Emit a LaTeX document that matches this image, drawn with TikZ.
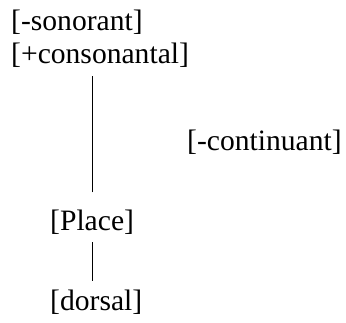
\documentclass[tikz,border=0pt]{standalone}
\usepackage{fontspec}
\setmainfont{Liberation Serif}
\usetikzlibrary{positioning}

\tikzset{feat/.style={anchor=base west, inner sep=0pt, font=\fontsize{29.6}{34}\selectfont}}
\tikzset{assoc/.style={black, line width=0.9pt}}

\begin{document}
\begin{tikzpicture}[x=1pt,y=-1pt]
\useasboundingbox (0,0) rectangle (346,322);

\node[feat] (son) at (11,30) {[-sonorant]};
\node[feat] (cons) at (11,63) {[+consonantal]};
\node[feat] (cont) at (187,150) {[-continuant]};
\node[feat] (place) at (50,230) {[Place]};
\node[feat] (dors) at (50,310) {[dorsal]};

% association lines
\draw[assoc, shorten <=17pt, shorten >=9pt] (place.north) -- (place.north |- cons.south);
\draw[assoc, shorten <=8pt, shorten >=8pt] (place.south) -- (place.south |- dors.north);

\end{tikzpicture}
\end{document}
